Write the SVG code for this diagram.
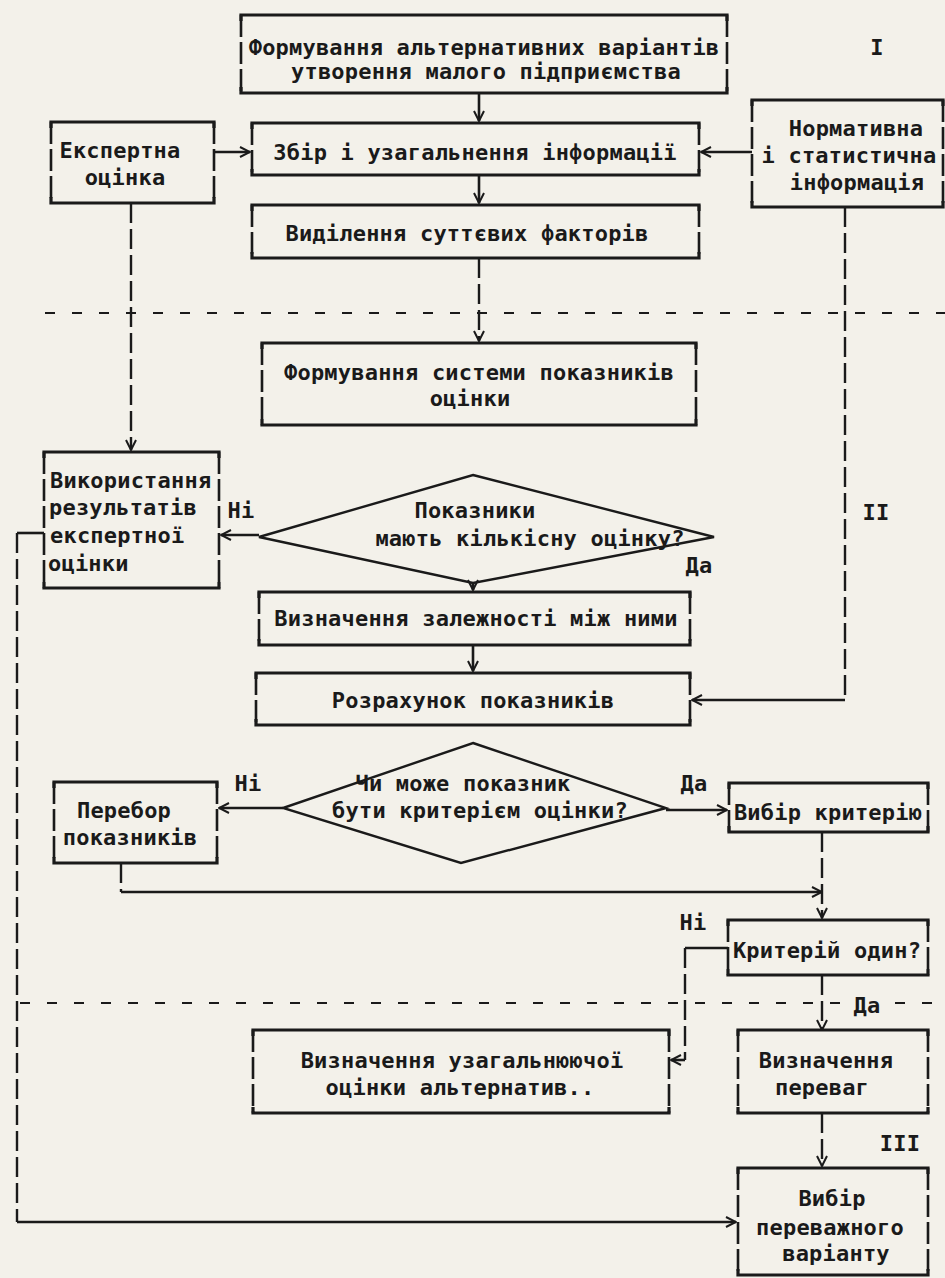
<svg xmlns="http://www.w3.org/2000/svg" width="945" height="1278" viewBox="0 0 945 1278">
<defs>
<marker id="ah" viewBox="0 0 12 12" refX="11" refY="6" markerWidth="12" markerHeight="12" markerUnits="userSpaceOnUse" orient="auto">
<path d="M1,1 L11,6 L1,11" fill="none" stroke="#1a1a1a" stroke-width="2"/>
</marker>
<style>
.bh{fill:none;stroke:#1a1a1a;stroke-width:3.2}
.bv{fill:none;stroke:#1a1a1a;stroke-width:2.6;stroke-dasharray:22 5}
.dg{fill:none;stroke:#1a1a1a;stroke-width:2.4}
.c{fill:none;stroke:#1a1a1a;stroke-width:2.6}
.cv{fill:none;stroke:#1a1a1a;stroke-width:2.4;stroke-dasharray:20 6}
.sep{fill:none;stroke:#1a1a1a;stroke-width:2.2;stroke-dasharray:10 17}
.t{font-family:"DejaVu Sans Mono","Liberation Mono",monospace;font-weight:bold;font-size:22px;letter-spacing:0.2px;fill:#1a1a1a;text-anchor:middle;dominant-baseline:central}
.l{text-anchor:start}
</style>
</defs>
<rect x="0" y="0" width="945" height="1278" fill="#f3f1ea"/>

<g id="separators">
<line class="sep" x1="45" y1="313" x2="945" y2="313"/>
<line class="sep" x1="20" y1="1003" x2="845" y2="1003"/>
<line class="sep" x1="895" y1="1003" x2="945" y2="1003"/>
</g>

<g id="roman">
<text class="t" x="877" y="47">I</text>
<text class="t" x="876" y="512">II</text>
<text class="t" x="900" y="1143">III</text>
</g>

<g id="connectors">
<path class="c" d="M479,93 V121" marker-end="url(#ah)"/>
<path class="c" d="M214,152 H250" marker-end="url(#ah)"/>
<path class="c" d="M752,152 H701" marker-end="url(#ah)"/>
<path class="c" d="M479,175 V203" marker-end="url(#ah)"/>
<path class="cv" d="M479,258 V341" marker-end="url(#ah)"/>
<path class="cv" d="M131,203 V450" marker-end="url(#ah)"/>
<path class="cv" d="M845,207 V700"/>
<path class="c" d="M845,700 H692" marker-end="url(#ah)"/>
<path class="c" d="M259,535 H221" marker-end="url(#ah)"/>
<path class="c" d="M473,583 V590" marker-end="url(#ah)"/>
<path class="c" d="M473,645 V671" marker-end="url(#ah)"/>
<path class="c" d="M44,533 H17"/>
<path class="cv" d="M17,533 V1222"/>
<path class="c" d="M17,1222 H736" marker-end="url(#ah)"/>
<path class="c" d="M283,808 H219" marker-end="url(#ah)"/>
<path class="c" d="M666,810 H727" marker-end="url(#ah)"/>
<path class="cv" d="M121,863 V892"/>
<path class="c" d="M121,892 H822" marker-end="url(#ah)"/>
<path class="cv" d="M822,832 V918" marker-end="url(#ah)"/>
<path class="c" d="M728,948 H685"/>
<path class="cv" d="M685,948 V1060"/>
<path class="c" d="M685,1060 H671" marker-end="url(#ah)"/>
<path class="cv" d="M822,975 V1030" marker-end="url(#ah)"/>
<path class="cv" d="M822,1113 V1166" marker-end="url(#ah)"/>
<text class="t" x="241" y="510">Ні</text>
<text class="t" x="699" y="565">Да</text>
<text class="t" x="248" y="783">Ні</text>
<text class="t" x="694" y="783">Да</text>
<text class="t" x="693" y="922">Ні</text>
<text class="t" x="867" y="1005">Да</text>
</g>

<g id="n1">
<path class="bh" d="M241,21 V15 H727 V21 M241,87 V93 H727 V87"/>
<path class="bv" d="M241,15 V93 M727,15 V93"/>
<text class="t" x="484" y="47">Формування альтернативних варіантів</text>
<text class="t" x="486" y="71">утворення малого підприємства</text>
</g>

<g id="n2">
<path class="bh" d="M252,129 V123 H699 V129 M252,169 V175 H699 V169"/>
<path class="bv" d="M252,123 V175 M699,123 V175"/>
<text class="t" x="475" y="152">Збір і узагальнення інформації</text>
</g>

<g id="n-expert">
<path class="bh" d="M51,128 V122 H214 V128 M51,197 V203 H214 V197"/>
<path class="bv" d="M51,122 V203 M214,122 V203"/>
<text class="t" x="120" y="150">Експертна</text>
<text class="t" x="125" y="177">оцінка</text>
</g>

<g id="n-norm">
<path class="bh" d="M752,106 V100 H943 V106 M752,201 V207 H943 V201"/>
<path class="bv" d="M752,100 V207 M943,100 V207"/>
<text class="t" x="856" y="128">Нормативна</text>
<text class="t" x="849" y="155">і статистична</text>
<text class="t" x="857" y="182">інформація</text>
</g>

<g id="n3">
<path class="bh" d="M252,211 V205 H699 V211 M252,252 V258 H699 V252"/>
<path class="bv" d="M252,205 V258 M699,205 V258"/>
<text class="t" x="467" y="233">Виділення суттєвих факторів</text>
</g>

<g id="n4">
<path class="bh" d="M262,349 V343 H696 V349 M262,419 V425 H696 V419"/>
<path class="bv" d="M262,343 V425 M696,343 V425"/>
<text class="t" x="479" y="372">Формування системи показників</text>
<text class="t" x="470" y="398">оцінки</text>
</g>

<g id="n-use">
<path class="bh" d="M44,458 V452 H219 V458 M44,582 V588 H219 V582"/>
<path class="bv" d="M44,452 V588 M219,452 V588"/>
<text class="t l" x="50" y="480">Використання</text>
<text class="t l" x="49" y="507">результатів</text>
<text class="t l" x="50" y="535">експертної</text>
<text class="t l" x="48" y="563">оцінки</text>
</g>

<g id="d1">
<path class="dg" d="M473,475 L714,537 L473,583 L259,537 Z"/>
<text class="t" x="475" y="510">Показники</text>
<text class="t" x="530" y="538">мають кількісну оцінку?</text>
</g>

<g id="n5">
<path class="bh" d="M259,598 V592 H690 V598 M259,639 V645 H690 V639"/>
<path class="bv" d="M259,592 V645 M690,592 V645"/>
<text class="t" x="476" y="618">Визначення залежності між ними</text>
</g>

<g id="n6">
<path class="bh" d="M256,679 V673 H690 V679 M256,719 V725 H690 V719"/>
<path class="bv" d="M256,673 V725 M690,673 V725"/>
<text class="t" x="473" y="700">Розрахунок показників</text>
</g>

<g id="d2">
<path class="dg" d="M473,743 L666,808 L461,863 L283,808 Z"/>
<text class="t" x="463" y="783">Чи може показник</text>
<text class="t" x="480" y="810">бути критерієм оцінки?</text>
</g>

<g id="n-perebor">
<path class="bh" d="M54,788 V782 H217 V788 M54,857 V863 H217 V857"/>
<path class="bv" d="M54,782 V863 M217,782 V863"/>
<text class="t" x="124" y="810">Перебор</text>
<text class="t" x="130" y="837">показників</text>
</g>

<g id="n-vybir">
<path class="bh" d="M729,789 V783 H928 V789 M729,826 V832 H928 V826"/>
<path class="bv" d="M729,783 V832 M928,783 V832"/>
<text class="t" x="828" y="812">Вибір критерію</text>
</g>

<g id="n-odyn">
<path class="bh" d="M728,926 V920 H928 V926 M728,969 V975 H928 V969"/>
<path class="bv" d="M728,920 V975 M928,920 V975"/>
<text class="t" x="827" y="950">Критерій один?</text>
</g>

<g id="n-uzag">
<path class="bh" d="M253,1036 V1030 H669 V1036 M253,1107 V1113 H669 V1107"/>
<path class="bv" d="M253,1030 V1113 M669,1030 V1113"/>
<text class="t" x="462" y="1060">Визначення узагальнюючої</text>
<text class="t" x="460" y="1087">оцінки альтернатив..</text>
</g>

<g id="n-perevag">
<path class="bh" d="M738,1036 V1030 H928 V1036 M738,1107 V1113 H928 V1107"/>
<path class="bv" d="M738,1030 V1113 M928,1030 V1113"/>
<text class="t" x="826" y="1060">Визначення</text>
<text class="t" x="822" y="1087">переваг</text>
</g>

<g id="n-final">
<path class="bh" d="M738,1174 V1168 H928 V1174 M738,1269 V1275 H928 V1269"/>
<path class="bv" d="M738,1168 V1275 M928,1168 V1275"/>
<text class="t" x="832" y="1198">Вибір</text>
<text class="t" x="830" y="1227">переважного</text>
<text class="t" x="836" y="1253">варіанту</text>
</g>
</svg>
